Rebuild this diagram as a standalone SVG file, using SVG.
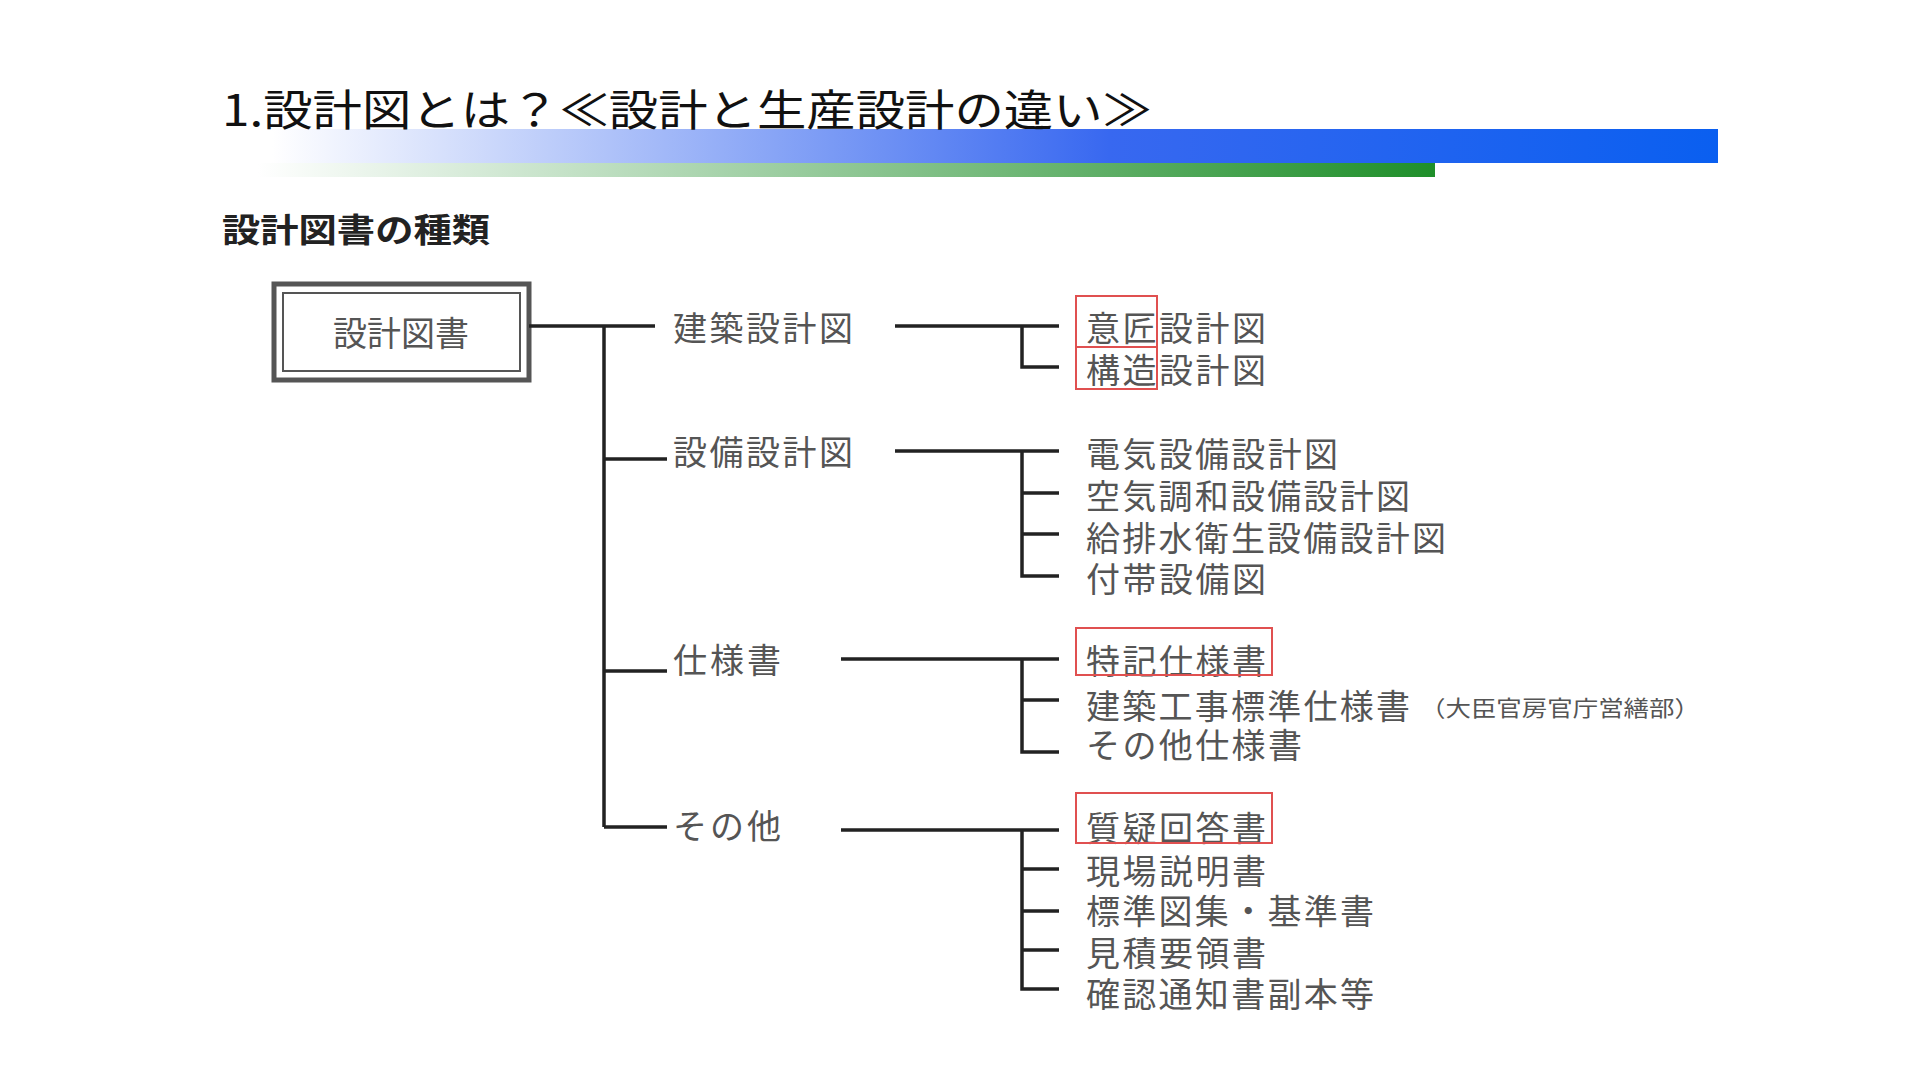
<svg xmlns="http://www.w3.org/2000/svg" width="1920" height="1080" viewBox="0 0 1920 1080">
<style>
text{font-family:"Noto Sans CJK JP","Liberation Sans",sans-serif;fill:#555}
.t1{font-size:34px}
.t2{font-size:34px}
.c{stroke:#222;stroke-width:3.5;fill:none}
.r{stroke:#e05050;stroke-width:2;fill:none}
</style>
<defs>
<linearGradient id="gb" x1="0" x2="1"><stop offset="0.05" stop-color="#fff"/><stop offset="0.6" stop-color="#3868f0"/><stop offset="1" stop-color="#0a5ff0"/></linearGradient>
<linearGradient id="gg" x1="0" x2="1"><stop offset="0.05" stop-color="#fff"/><stop offset="1" stop-color="#1f8f2a"/></linearGradient>
</defs>
<rect width="1920" height="1080" fill="#fff"/>
<rect x="196" y="129" width="1522" height="34" fill="url(#gb)"/>
<rect x="196" y="163" width="1239" height="14" fill="url(#gg)"/>
<text x="222" y="126" style="font-size:43px;fill:#111" textLength="930" lengthAdjust="spacingAndGlyphs">1.設計図とは？≪設計と生産設計の違い≫</text>
<text x="222" y="242" style="font-size:33px;font-weight:bold;fill:#222" textLength="268" lengthAdjust="spacingAndGlyphs">設計図書の種類</text>
<g id="root">
<rect x="274" y="284" width="255" height="96" fill="#fff" stroke="#555" stroke-width="5"/>
<rect x="283" y="293" width="237" height="78" fill="none" stroke="#555" stroke-width="2"/>
<text x="401" y="346" class="t2" text-anchor="middle">設計図書</text>
</g>
<g id="connectors">
<path class="c" d="M529 326H655M604 326V827M604 459H667M604 671H667M604 827H667"/>
<path class="c" d="M895 326H1022V367H1059M1022 326H1059"/>
<path class="c" d="M895 451H1059M1022 451V576H1059M1022 493H1059M1022 534H1059"/>
<path class="c" d="M841 659H1059M1022 659V752H1059M1022 700H1059"/>
<path class="c" d="M841 830H1059M1022 830V989H1059M1022 869H1059M1022 911H1059M1022 950H1059"/>
</g>
<g id="l1">
<text x="673" y="341" class="t1" textLength="180">建築設計図</text>
<text x="673" y="465" class="t1" textLength="180">設備設計図</text>
<text x="673" y="673" class="t1" textLength="108">仕様書</text>
<text x="673" y="839" class="t1" textLength="108">その他</text>
</g>
<g id="l2">
<text x="1086" y="341" class="t1" textLength="180">意匠設計図</text>
<text x="1086" y="383" class="t1" textLength="180">構造設計図</text>
<text x="1086" y="467" class="t1" textLength="252">電気設備設計図</text>
<text x="1086" y="509" class="t1" textLength="324">空気調和設備設計図</text>
<text x="1086" y="551" class="t1" textLength="360">給排水衛生設備設計図</text>
<text x="1086" y="592" class="t1" textLength="180">付帯設備図</text>
<text x="1086" y="674" class="t1" textLength="180">特記仕様書</text>
<text x="1086" y="719" class="t1" textLength="324">建築工事標準仕様書</text>
<text x="1420" y="716" style="font-size:22px" textLength="280" lengthAdjust="spacingAndGlyphs">（大臣官房官庁営繕部）</text>
<text x="1086" y="758" class="t1" textLength="216">その他仕様書</text>
<text x="1086" y="841" class="t1" textLength="180">質疑回答書</text>
<text x="1086" y="884" class="t1" textLength="180">現場説明書</text>
<text x="1086" y="924" class="t1" textLength="288">標準図集・基準書</text>
<text x="1086" y="966" class="t1" textLength="180">見積要領書</text>
<text x="1086" y="1007" class="t1" textLength="288">確認通知書副本等</text>
</g>
<g id="marks">
<rect class="r" x="1076" y="296" width="81" height="51"/>
<rect class="r" x="1076" y="347" width="81" height="42"/>
<rect class="r" x="1076" y="628" width="196" height="47"/>
<rect class="r" x="1076" y="793" width="196" height="50"/>
</g>
</svg>
